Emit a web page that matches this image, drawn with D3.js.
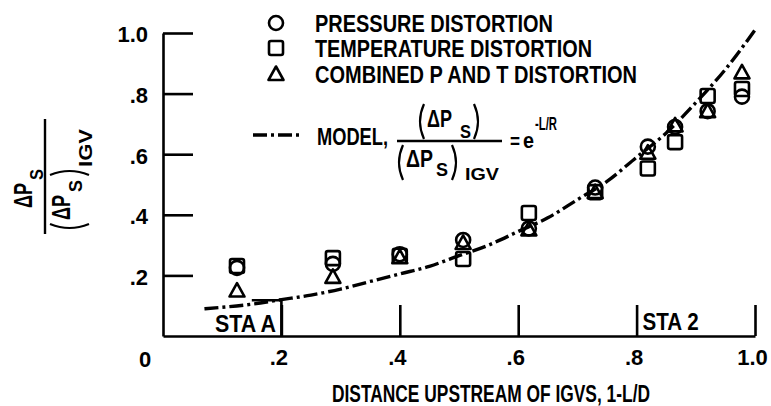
<!DOCTYPE html>
<html>
<head>
<meta charset="utf-8">
<script src="https://cdn.jsdelivr.net/npm/d3@7"></script>
<style>
  html, body { margin: 0; padding: 0; background: #fff; }
  svg { display: block; }
  text { font-family: "Liberation Sans Narrow", "Liberation Sans", Arial, sans-serif; font-weight: bold; fill: #000; }
</style>
</head>
<body>
<svg id="chart" width="771" height="406"></svg>
<script>
// ---------- data ----------
const stations = [0.125, 0.287, 0.40, 0.507, 0.618, 0.73, 0.819, 0.865, 0.92, 0.978];
const pressureDistortion    = [0.225, 0.238, 0.27, 0.317, 0.355, 0.49, 0.625, 0.69, 0.742, 0.79];
const temperatureDistortion = [0.231, 0.257, 0.265, 0.254, 0.406, 0.475, 0.553, 0.64, 0.792, 0.815];
const combinedDistortion    = [0.15, 0.195, 0.26, 0.307, 0.352, 0.475, 0.605, 0.695, 0.742, 0.87];
const modelX = [0.07, 0.15, 0.2, 0.25, 0.3, 0.35, 0.4, 0.45, 0.5, 0.55, 0.6, 0.65, 0.7, 0.75, 0.8, 0.85, 0.9, 0.95, 1.0];
const modelY = [0.09, 0.105, 0.12, 0.135, 0.155, 0.18, 0.205, 0.23, 0.265, 0.30, 0.345, 0.39, 0.45, 0.51, 0.59, 0.67, 0.77, 0.88, 1.01];
const xTickValues = [0.2, 0.4, 0.6, 0.8, 1.0];
const xTickLabels = [".2", ".4", ".6", ".8", "1.0"];
const yTickValues = [0.2, 0.4, 0.6, 0.8, 1.0];
const yTickLabels = [".2", ".4", ".6", ".8", "1.0"];
const legendLabels = ["PRESSURE DISTORTION", "TEMPERATURE DISTORTION", "COMBINED P AND T DISTORTION"];
const xTitle = "DISTANCE UPSTREAM OF IGVS, 1-L/D";

// ---------- setup ----------
const svg = d3.select("#chart");
svg.append("rect").attr("width", 771).attr("height", 406).attr("fill", "#fff");
const x = d3.scaleLinear().domain([0, 1]).range([163, 755]);
const y = d3.scaleLinear().domain([0, 1]).range([336, 33]);
const SW = 2.6;

// axes
const yAxis = d3.axisLeft(y).tickValues(yTickValues)
  .tickFormat((d, i) => yTickLabels[i]).tickSizeInner(-30).tickSizeOuter(0).tickPadding(15);
const gy = svg.append("g").attr("transform", `translate(${x(0)},0)`).call(yAxis);
const xAxis = d3.axisBottom(x).tickValues(xTickValues)
  .tickFormat((d, i) => xTickLabels[i]).tickSizeInner(-31).tickSizeOuter(0).tickPadding(13);
const gx = svg.append("g").attr("transform", `translate(0,${y(0)})`).call(xAxis);
[gx, gy].forEach(g => {
  g.select(".domain").attr("stroke", "#000").attr("stroke-width", SW);
  g.selectAll(".tick line").attr("stroke", "#000").attr("stroke-width", SW);
  g.selectAll(".tick text").attr("font-size", 22).attr("fill", "#000")
    .style("font-family", "'Liberation Sans', Arial, sans-serif");
});
gy.selectAll(".tick text").attr("dy", "0.4em");
gx.selectAll(".tick text").attr("dx", "-3");
// corner zero
svg.append("text").attr("x", 145).attr("y", 367).attr("text-anchor", "middle")
  .attr("font-size", 22).style("font-family", "'Liberation Sans', Arial, sans-serif").text("0");

// station annotations
svg.append("path").attr("d", `M${x(0.15)},${y(0.118)} H${x(0.2)} V${y(0)}`)
  .attr("fill", "none").attr("stroke", "#000").attr("stroke-width", SW);
svg.append("text").attr("x", 215).attr("y", 332).attr("font-size", 24)
  .attr("textLength", 61).attr("lengthAdjust", "spacingAndGlyphs").text("STA A");
svg.append("text").attr("x", x(0.8) + 6).attr("y", 330).attr("font-size", 24)
  .attr("textLength", 56).attr("lengthAdjust", "spacingAndGlyphs").text("STA 2");

// model line
const dash = "14,4,3,4";
const line = d3.line().x(d => x(d[0])).y(d => y(d[1])).curve(d3.curveMonotoneX);
svg.append("path").datum(modelX.map((v, i) => [v, modelY[i]]))
  .attr("d", line).attr("fill", "none").attr("stroke", "#000")
  .attr("stroke-width", 3.4).attr("stroke-dasharray", dash);

// markers
function marker(g, type, cx, cy) {
  if (type === 0) {
    g.append("circle").attr("cx", cx).attr("cy", cy).attr("r", 7);
  } else if (type === 1) {
    g.append("rect").attr("x", cx - 7).attr("y", cy - 7).attr("width", 14).attr("height", 14).attr("rx", 2);
  } else {
    g.append("path").attr("d", `M${cx},${cy - 7.5} L${cx + 7.5},${cy + 6} L${cx - 7.5},${cy + 6} Z`);
  }
}
const series = [pressureDistortion, temperatureDistortion, combinedDistortion];
const gm = svg.append("g").attr("fill", "none").attr("stroke", "#000").attr("stroke-width", SW)
  .attr("stroke-linejoin", "round");
series.forEach((vals, s) => {
  vals.forEach((v, i) => marker(gm, s, x(stations[i]), y(v)));
});

// legend
const legendRows = [23, 48, 74];
const gl = svg.append("g").attr("fill", "none").attr("stroke", "#000").attr("stroke-width", SW)
  .attr("stroke-linejoin", "round");
const legendWidths = [238, 277, 322];
legendLabels.forEach((t, i) => {
  marker(gl, i, 276, legendRows[i]);
  svg.append("text").attr("x", 315).attr("y", legendRows[i] + 9).attr("font-size", 24)
    .attr("textLength", legendWidths[i]).attr("lengthAdjust", "spacingAndGlyphs").text(t);
});
// model legend row
svg.append("line").attr("x1", 253).attr("x2", 301).attr("y1", 135).attr("y2", 135)
  .attr("stroke", "#000").attr("stroke-width", 3.4).attr("stroke-dasharray", dash);
svg.append("text").attr("x", 317).attr("y", 145).attr("font-size", 24)
  .attr("textLength", 71).attr("lengthAdjust", "spacingAndGlyphs").text("MODEL,");

function paren(g, xa, y1, y2, dir) {
  // dir = -1 for "(" , +1 for ")"
  const w = 4;
  g.append("path")
    .attr("d", `M${xa},${y1} Q${xa + dir * 2 * w},${(y1 + y2) / 2} ${xa},${y2}`)
    .attr("fill", "none").attr("stroke", "#000").attr("stroke-width", 2.2);
}
function t(g, xx, yy, s, size, len) {
  const e = g.append("text").attr("x", xx).attr("y", yy).attr("font-size", size).text(s);
  if (len) e.attr("textLength", len).attr("lengthAdjust", "spacingAndGlyphs");
  return e;
}
const gf = svg.append("g");
gf.append("line").attr("x1", 397).attr("x2", 502).attr("y1", 141).attr("y2", 141)
  .attr("stroke", "#000").attr("stroke-width", 2.4);
// numerator
paren(gf, 424, 104, 139, -1);
t(gf, 427, 127, "ΔP", 23, 25);
t(gf, 460, 138, "S", 18, 11);
paren(gf, 474, 104, 139, 1);
// denominator
paren(gf, 403, 145, 180, -1);
t(gf, 406, 167, "ΔP", 23, 27);
t(gf, 436, 176, "S", 18, 12);
paren(gf, 452, 145, 180, 1);
t(gf, 465, 180, "IGV", 17, 34);
// = e^-L/R
t(gf, 510, 148, "=", 20, 10);
t(gf, 523, 148, "e", 22, 11);
t(gf, 535, 130, "-L/R", 19, 22);

// y-axis label (rotated fraction)
const gyl = svg.append("g").attr("transform", "translate(45,177) rotate(-90)");
gyl.append("line").attr("x1", -57).attr("x2", 58).attr("y1", 0).attr("y2", 0)
  .attr("stroke", "#000").attr("stroke-width", 2.4);
t(gyl, -31, -13, "ΔP", 26, 25);
t(gyl, -3, -2, "S", 19, 11);
paren(gyl, -47, 5, 44, -1);
t(gyl, -43, 25, "ΔP", 26, 25);
t(gyl, -15, 37, "S", 19, 12);
paren(gyl, 2, 5, 44, 1);
t(gyl, 10, 47, "IGV", 19, 38);

// x-axis title
svg.append("text").attr("x", 332).attr("y", 402).attr("font-size", 24)
  .attr("textLength", 318).attr("lengthAdjust", "spacingAndGlyphs").text(xTitle);
</script>
</body>
</html>
